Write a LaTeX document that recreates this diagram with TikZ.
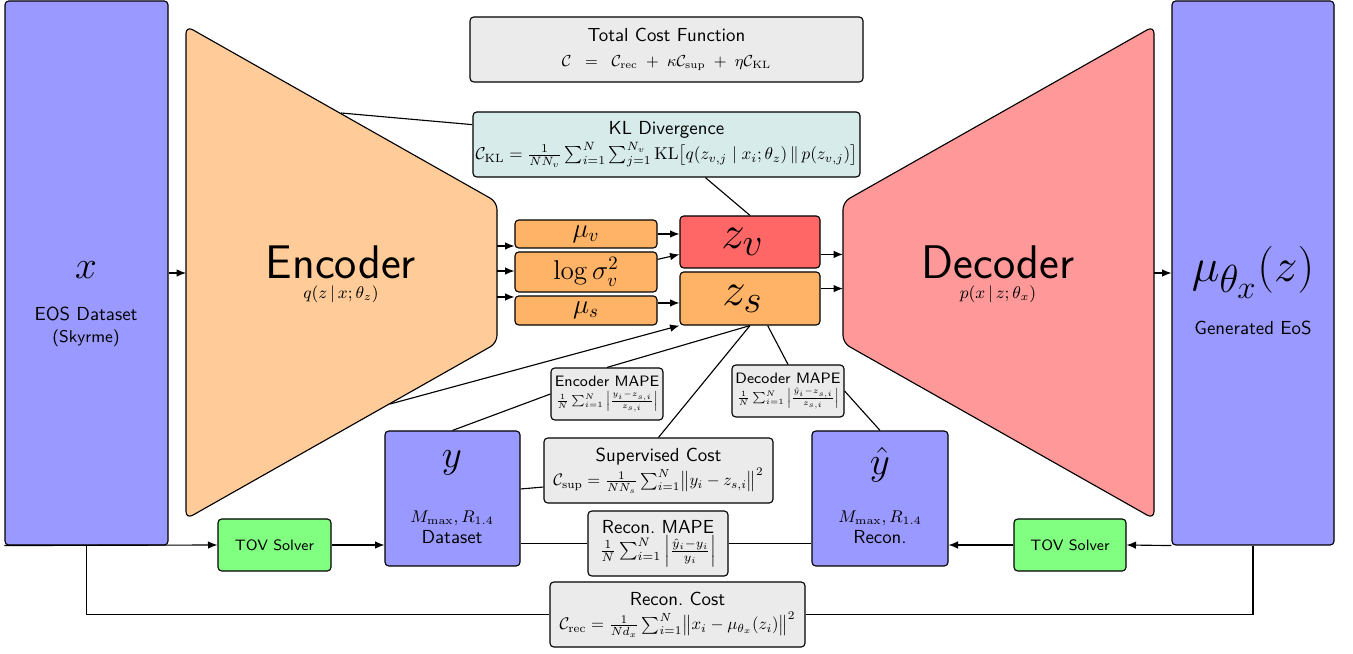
\documentclass[tikz,border=0pt]{standalone}
\usepackage{amsmath,amssymb,graphicx}
\usetikzlibrary{fit,calc,arrows.meta}
\definecolor{cblue}{HTML}{9999FF}
\definecolor{cenc}{HTML}{FFCC99}
\definecolor{cdec}{HTML}{FF9999}
\definecolor{corange}{HTML}{FFB366}
\definecolor{czv}{HTML}{FF6666}
\definecolor{cgray}{HTML}{EBEBEB}
\definecolor{ckl}{HTML}{D6EBEA}
\definecolor{cgreen}{HTML}{80FF80}
\tikzset{
  box/.style={draw, semithick, rounded corners=2pt, inner sep=0pt},
  bluebox/.style={box, fill=cblue},
  graybox/.style={box, fill=cgray},
  orbox/.style={box, fill=corange},
  greenbox/.style={box, fill=cgreen},
  txt/.style={font=\sffamily, align=center, inner sep=1pt},
  conn/.style={semithick},
  arr/.style={semithick, -{Latex[length=5pt,width=4pt]}},
}
\begin{document}
\begin{tikzpicture}[x=0.53pt,y=-0.53pt]
\useasboundingbox (0,0) rectangle (1353,654);

% input / output boxes
\node[bluebox, fit={(5,1)(168,545)}] (X) {};
\node[txt, font=\huge] (xsym) at (86,270) {$x$};
\node[txt] (xname) at (86,314) {EOS Dataset};
\node[txt, font=\sffamily\small] (xsky) at (86,338) {(Skyrme)};

\node[bluebox, fit={(1172,1)(1334,545)}] (M) {};
\node[txt, font=\Huge] (msym) at (1253,272) {$\mu_{\theta_x}(z)$};
\node[txt] (mname) at (1253,328) {Generated EoS};

% encoder
\coordinate (e1) at (186,26);
\coordinate (e2) at (497,202);
\coordinate (e3) at (497,343);
\coordinate (e4) at (186,519);
\draw[semithick, fill=cenc, rounded corners=4pt] (e1) -- (e2) -- (e3) -- (e4) -- cycle;
\node[txt, font=\sffamily\fontsize{25}{30}\selectfont] (enc) at (341,262) {Encoder};
\node[txt, font=\small] (encq) at (341,294) {$q(z\,|\,x;\theta_z)$};

% decoder
\coordinate (d1) at (843,202);
\coordinate (d2) at (1154,26);
\coordinate (d3) at (1154,519);
\coordinate (d4) at (843,343);
\draw[semithick, fill=cdec, rounded corners=4pt] (d1) -- (d2) -- (d3) -- (d4) -- cycle;
\node[txt, font=\sffamily\fontsize{25}{30}\selectfont] (dec) at (998,262) {Decoder};
\node[txt, font=\small] (decp) at (998,294) {$p(x\,|\,z;\theta_x)$};

% latent boxes
\node[orbox, fit={(515,220)(657,248)}] (muv) {};
\node[txt, font=\Large] (muvt) at (muv.center) {$\mu_v$};
\node[orbox, fit={(515,252)(657,292)}] (logs) {};
\node[txt, font=\Large] (logst) at (logs.center) {$\log\sigma_v^2$};
\node[orbox, fit={(515,296)(657,325)}] (mus) {};
\node[txt, font=\Large] (must) at (mus.center) {$\mu_s$};
\node[box, fill=czv, fit={(680,216)(820,268)}] (zv) {};
\node[txt, font=\Huge] (zvt) at ([xshift=-4pt]zv.center) {$z_v$};
\node[box, fill=corange, fit={(680,272)(820,325)}] (zs) {};
\node[txt, font=\Huge] (zst) at ([xshift=-4pt]zs.center) {$z_s$};

% cost boxes
\node[graybox, fit={(470,17)(863,82)}] (tc) {};
\node[txt] (tct) at (tc.center) {Total Cost Function\\[1pt]
  \scalebox{0.94}{\small$\mathcal{C} \;\;=\;\; \mathcal{C}_{\mathrm{rec}} \;+\; \kappa\mathcal{C}_{\mathrm{sup}} \;+\; \eta\mathcal{C}_{\mathrm{KL}}$}};
\node[box, fill=ckl, fit={(473,112)(860,177)}] (kl) {};
\node[txt] (klt) at (kl.center) {KL Divergence\\[1pt]
  \scalebox{0.91}{$\mathcal{C}_{\mathrm{KL}} = \frac{1}{NN_v}\sum_{i=1}^{N}\sum_{j=1}^{N_v}\mathrm{KL}\bigl[q(z_{v,j}\mid x_i;\theta_z)\,\|\,p(z_{v,j})\bigr]$}};
\node[graybox, fit={(551,368)(663,420)}] (encm) {};
\node[txt, font=\sffamily\footnotesize] (encmt) at (encm.center) {Encoder MAPE\\
  \scalebox{0.85}{\scriptsize$\frac{1}{N}\sum_{i=1}^{N}\left|\frac{y_i-z_{s,i}}{z_{s,i}}\right|$}};
\node[graybox, fit={(732,365)(844,417)}] (decm) {};
\node[txt, font=\sffamily\footnotesize] (decmt) at (decm.center) {Decoder MAPE\\
  \scalebox{0.85}{\scriptsize$\frac{1}{N}\sum_{i=1}^{N}\left|\frac{\hat{y}_i-z_{s,i}}{z_{s,i}}\right|$}};
\node[graybox, fit={(544,438)(773,503)}] (sup) {};
\node[txt] (supt) at (sup.center) {Supervised Cost\\[1pt]
  \scalebox{0.88}{$\mathcal{C}_{\mathrm{sup}} = \frac{1}{NN_s}\sum_{i=1}^{N}\bigl\|y_i - z_{s,i}\bigr\|^2$}};
\node[graybox, fit={(588,511)(728,576)}] (reconm) {};
\node[txt] (reconmt) at (reconm.center) {Recon.\ MAPE\\
  \scalebox{0.93}{$\frac{1}{N}\sum_{i=1}^{N}\left|\frac{\hat{y}_i-y_i}{y_i}\right|$}};
\node[graybox, fit={(550,582)(805,647)}] (rc) {};
\node[txt] (rct) at (rc.center) {Recon.\ Cost\\[1pt]
  \scalebox{0.89}{$\mathcal{C}_{\mathrm{rec}} = \frac{1}{Nd_x}\sum_{i=1}^{N}\bigl\|x_i - \mu_{\theta_x}(z_i)\bigr\|^2$}};

% observables
\node[bluebox, fit={(385,431)(520,566)}] (ybox) {};
\node[txt, font=\huge] (ysym) at (452,463) {$y$};
\node[txt, font=\small] (yq) at (452,518) {$M_{\mathrm{max}}, R_{1.4}$};
\node[txt] (yname) at (452,537) {Dataset};

\node[bluebox, fit={(812,431)(948,566)}] (yhat) {};
\node[txt, font=\huge] (yhsym) at (880,465) {$\hat{y}$};
\node[txt, font=\small] (yhq) at (880,518) {$M_{\mathrm{max}}, R_{1.4}$};
\node[txt] (yhname) at (880,537) {Recon.};

\node[greenbox, fit={(218,519)(331,571)}] (tov1) {};
\node[txt, font=\sffamily\footnotesize] (tov1t) at (tov1.center) {TOV Solver};
\node[greenbox, fit={(1014,519)(1126,571)}] (tov2) {};
\node[txt, font=\sffamily\footnotesize] (tov2t) at (tov2.center) {TOV Solver};

% connectors: encoder side
\draw[arr] (X.east) -- (X.east -| e1);
\coordinate (er1) at (497,246);
\coordinate (er2) at (497,271);
\coordinate (er3) at (497,297);
\draw[arr] (er1) -- (er1 -| muv.west);
\draw[arr] (er2) -- (er2 -| logs.west);
\draw[arr] (er3) -- (er3 -| mus.west);
\draw[arr] (muv.east) -- (muv.east -| zv.west);
\draw[arr] (logs.10) -- (zv.190);
\coordinate (msa) at ($(mus.east)!0.5!(mus.north east)$);
\draw[arr] (msa) -- (msa -| zs.west);
\draw[arr] (zv.-10) -- (zv.-10 -| d1);
\draw[arr] (zs.8) -- (zs.8 -| d1);
\draw[arr] (d2 |- M.west) -- (M.west);

% cost links
\coordinate (encT) at (341,113);
\draw[conn] ($(kl.north west)!0.2!(kl.south west)$) -- (encT);
\draw[conn] ($(kl.south)!0.2!(kl.south east)$) -- (zv.north);
\coordinate (encB) at (390,404);
\draw[arr] (encB) -- (zs.south west);
\draw[conn] (encm.north) -- (zs.south);
\draw[conn] (ybox.north) -- (encm.west);
\draw[conn] (zs.south) -- (sup.north);
\draw[conn] ($(zs.south)!0.25!(zs.south east)$) -- (decm.north);
\draw[conn] (decm.east) -- (yhat.north);
\draw[conn] ($(sup.west)!0.5!(sup.south west)$) -- ($(ybox.east)!0.14!(ybox.north east)$);
\draw[conn] (reconm.west) -- (reconm.west -| ybox.east);
\draw[conn] (reconm.east) -- (reconm.east -| yhat.west);

% bottom flows
\draw[arr] (X.south west) -- (tov1.west);
\draw[arr] (tov1.east) -- (tov1.east -| ybox.west);
\draw[arr] (M.south west) -- (tov2.east);
\draw[arr] (tov2.west) -- (tov2.west -| yhat.east);
\draw[conn] (X.south) |- (rc.west);
\draw[conn] (M.south) |- (rc.east);
\end{tikzpicture}
\end{document}
